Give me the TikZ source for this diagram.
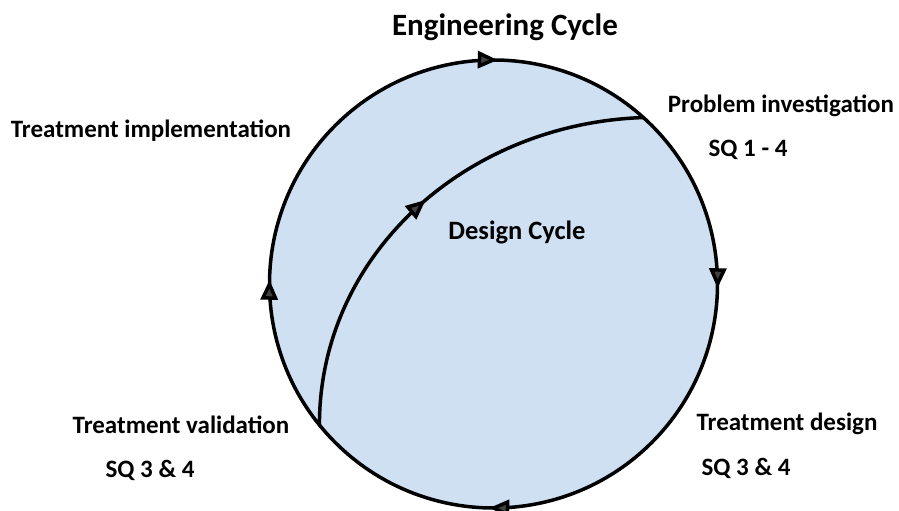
\documentclass[tikz,border=0pt]{standalone}
\usepackage{fontspec}
\setmainfont{Carlito}
\usetikzlibrary{arrows.meta,decorations.markings}
\definecolor{cycfill}{RGB}{207,224,242}
\tikzset{
  lbl/.style={font=\fontsize{25}{28}\selectfont\bfseries, inner sep=0pt, anchor=center},
  ttl/.style={font=\fontsize{31}{34}\selectfont\bfseries, inner sep=0pt, anchor=center},
  cycline/.style={line width=3.5pt, black, >={Triangle[length=20pt,width=17pt,fill=black!75]}},
  midtip/.style={postaction={decorate}, decoration={markings, mark=at position #1 with {\arrow{>}}}},
}
\begin{document}
\begin{tikzpicture}[x=1pt,y=1pt]
\useasboundingbox (0,0) rectangle (899,511);
\node[circle, minimum size=448pt, inner sep=0pt, outer sep=0pt, fill=cycfill] (cyc) at (493.5,227) {};
\draw[cycline, postaction={decorate}, decoration={markings,
    mark=at position 0.128 with {\arrow{>}},
    mark=at position 0.378 with {\arrow{>}},
    mark=at position 0.628 with {\arrow{>}},
    mark=at position 0.878 with {\arrow{>}}}]
  (cyc.135) arc[start angle=135, end angle=-225, radius=224pt];
\draw[cycline, midtip=0.52]
  (cyc.219) .. controls +(0,170) and +(-178,-6) .. (cyc.48);
\node[ttl] (eng) at (505,484) {Engineering Cycle};
\node[lbl] (pi) at (781,405) {Problem investigation};
\node[lbl] (sq1) at (748,361) {SQ 1 - 4};
\node[lbl] (ti) at (151,380) {Treatment implementation};
\node[lbl, font=\fontsize{26.5}{29}\selectfont\bfseries] (dc) at (517,279) {Design Cycle};
\node[lbl] (tv) at (181,86) {Treatment validation};
\node[lbl] (sq2) at (150,41) {SQ 3 \& 4};
\node[lbl] (td) at (787,87) {Treatment design};
\node[lbl] (sq3) at (746,43) {SQ 3 \& 4};
\end{tikzpicture}
\end{document}
